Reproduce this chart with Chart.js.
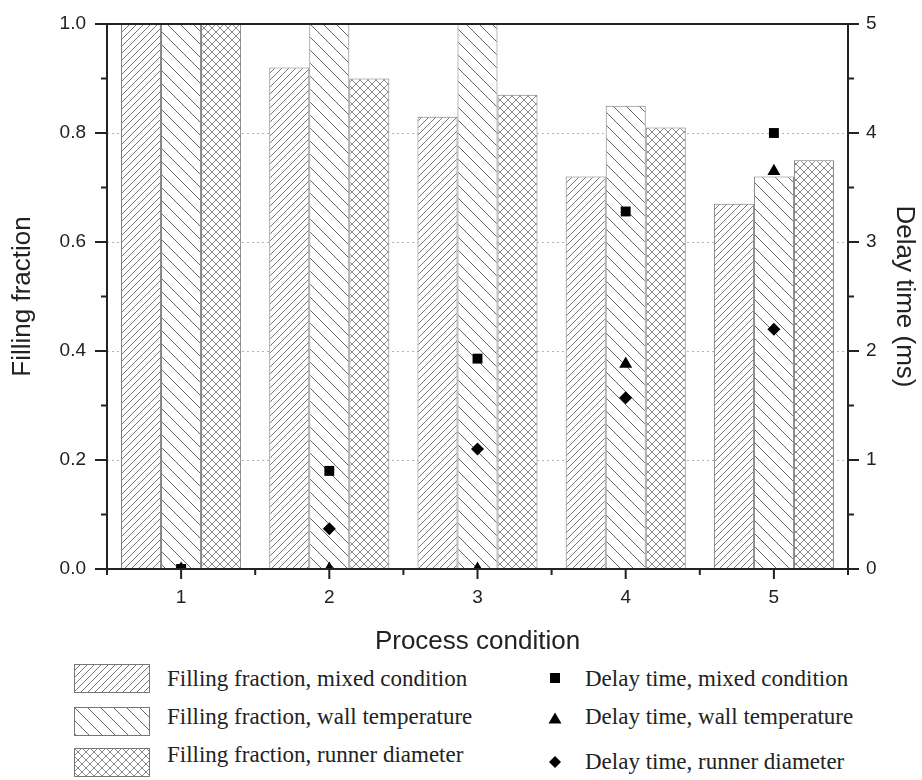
<!DOCTYPE html>
<html>
<head>
<meta charset="utf-8">
<script src="https://cdn.jsdelivr.net/npm/chart.js@4.4.0/dist/chart.umd.min.js"></script>
<style>
  body { margin: 0; background: #fff; }
  #wrap { position: relative; width: 922px; height: 780px; overflow: hidden; }
  #chart { position: absolute; left: 0; top: 0; }
  .sw { position: absolute; }
  .lbl { position: absolute; font-family: "Liberation Serif", "Times New Roman", serif; font-size: 23px; line-height: 23px; color: #222; white-space: nowrap; }
</style>
</head>
<body>
<div id="wrap">
  <canvas id="chart" width="922" height="660"></canvas>
  <div id="legend"></div>
</div>
<script>
// Data
const categories = ["1", "2", "3", "4", "5"];
const fillMixed  = [1.00, 0.92, 0.83, 0.72, 0.67];
const fillWall   = [1.00, 1.00, 1.00, 0.85, 0.72];
const fillRunner = [1.00, 0.90, 0.87, 0.81, 0.75];
const delayMixed  = [0, 0.90, 1.93, 3.28, 4.00];
const delayWall   = [0, 0, 0, 1.88, 3.65];
const delayRunner = [0, 0.37, 1.10, 1.57, 2.20];
const barNames   = ["Filling fraction, mixed condition", "Filling fraction, wall temperature", "Filling fraction, runner diameter"];
const pointNames = ["Delay time, mixed condition", "Delay time, wall temperature", "Delay time, runner diameter"];

const SANS = "'Liberation Sans', Arial, sans-serif";
const INK = "#222";

// hatch patterns: "/" dense, "\" wide, "x" crosshatch
function hatch(ctx, kind, size, color) {
  const c = document.createElement("canvas");
  c.width = c.height = size;
  const g = c.getContext("2d");
  g.fillStyle = "#fff";
  g.fillRect(0, 0, size, size);
  g.strokeStyle = color;
  g.lineWidth = 1;
  g.beginPath();
  for (let k = -1; k <= 1; k++) {
    if (kind === "/" || kind === "x") { g.moveTo(k * size, size); g.lineTo(k * size + size, 0); }
    if (kind === "\\" || kind === "x") { g.moveTo(k * size, 0); g.lineTo(k * size + size, size); }
  }
  g.stroke();
  return ctx.createPattern(c, "repeat");
}
const hatchSpec = [["/", 7, "#777"], ["\\", 13, "#666"], ["x", 8, "#888"]];

// axis frame, tick marks and dotted grid
const frame = {
  id: "frame",
  beforeDatasetsDraw(chart) {
    const { ctx, chartArea: a, scales: { y } } = chart;
    ctx.save();
    ctx.strokeStyle = "#b4b4b4";
    ctx.lineWidth = 1;
    ctx.setLineDash([2, 3]);
    y.ticks.forEach(t => {
      if (t.value <= y.min || t.value >= y.max) return;
      const py = Math.round(y.getPixelForValue(t.value)) + 0.5;
      ctx.beginPath();
      ctx.moveTo(a.left, py);
      ctx.lineTo(a.right, py);
      ctx.stroke();
    });
    ctx.restore();
  },
  afterDatasetsDraw(chart) {
    const { ctx, chartArea: a, scales: { x, y, y2 } } = chart;
    ctx.save();
    ctx.strokeStyle = INK;
    ctx.lineWidth = 2;
    ctx.strokeRect(a.left, a.top, a.right - a.left, a.bottom - a.top);
    ctx.beginPath();
    y.ticks.forEach((t, i) => {
      const py = y.getPixelForValue(t.value);
      ctx.moveTo(a.left - 12, py); ctx.lineTo(a.left, py);
      if (i < y.ticks.length - 1) {
        const m = y.getPixelForValue((t.value + y.ticks[i + 1].value) / 2);
        ctx.moveTo(a.left - 6, m); ctx.lineTo(a.left, m);
      }
    });
    y2.ticks.forEach((t, i) => {
      const py = y2.getPixelForValue(t.value);
      ctx.moveTo(a.right, py); ctx.lineTo(a.right + 11, py);
      if (i < y2.ticks.length - 1) {
        const m = y2.getPixelForValue((t.value + y2.ticks[i + 1].value) / 2);
        ctx.moveTo(a.right, m); ctx.lineTo(a.right + 6, m);
      }
    });
    x.ticks.forEach((t, i) => {
      const px = x.getPixelForValue(i);
      ctx.moveTo(px, a.bottom); ctx.lineTo(px, a.bottom + 10);
      const b = x.getPixelForValue(i + 0.5);
      ctx.moveTo(b, a.bottom); ctx.lineTo(b, a.bottom + 6);
      if (i === 0) {
        const b0 = x.getPixelForValue(-0.5);
        ctx.moveTo(b0, a.bottom); ctx.lineTo(b0, a.bottom + 6);
      }
    });
    ctx.stroke();
    ctx.restore();
  }
};

const canvas = document.getElementById("chart");
const cctx = canvas.getContext("2d");
const fills = [fillMixed, fillWall, fillRunner];
const delays = [delayMixed, delayWall, delayRunner];
const pointStyles = [["rect", 7], ["triangle", 7.5], ["rectRot", 6.5]];

const datasets = [];
fills.forEach((d, i) => {
  datasets.push({
    label: barNames[i],
    data: d,
    yAxisID: "y",
    backgroundColor: hatch(cctx, ...hatchSpec[i]),
    borderColor: "#777",
    borderWidth: 1,
    categoryPercentage: 0.81,
    barPercentage: 1.0,
    order: 2
  });
});
delays.forEach((d, i) => {
  datasets.push({
    type: "line",
    label: pointNames[i],
    data: d,
    yAxisID: "y2",
    showLine: false,
    pointStyle: pointStyles[i][0],
    pointRadius: pointStyles[i][1],
    pointBackgroundColor: "#000",
    pointBorderColor: "#000",
    pointBorderWidth: 0,
    clip: 0,
    order: 0
  });
});

const tickFont = { family: SANS, size: 19 };
const titleFont = { family: SANS, size: 26 };

// fixed axis sizes so the plot area sits where the figure has it
function fixVertical(width) {
  return s => { s.width = width; s.paddingTop = 0; s.paddingBottom = 0; };
}

new Chart(canvas, {
  type: "bar",
  data: { labels: categories, datasets },
  options: {
    responsive: false,
    animation: false,
    events: [],
    layout: { padding: { top: 24, left: 0, right: 0, bottom: 0 } },
    plugins: { legend: { display: false }, tooltip: { enabled: false } },
    scales: {
      x: {
        type: "category",
        offset: true,
        grid: { display: false, drawTicks: false },
        border: { display: false },
        ticks: { color: INK, font: tickFont, padding: 17 },
        title: { display: true, text: "Process condition", color: INK, font: titleFont, padding: { top: 0, bottom: 3 } },
        afterFit: s => { s.height = 91; }
      },
      y: {
        position: "left",
        min: 0,
        max: 1,
        grid: { display: false, drawTicks: false },
        border: { display: false },
        ticks: { stepSize: 0.2, color: INK, font: tickFont, padding: 21, callback: v => Number(v).toFixed(1) },
        title: { display: true, text: "Filling fraction", color: INK, font: titleFont, padding: { top: 7, bottom: 0 } },
        afterFit: fixVertical(107)
      },
      y2: {
        position: "right",
        min: 0,
        max: 5,
        grid: { display: false, drawTicks: false },
        border: { display: false },
        ticks: { stepSize: 1, color: INK, font: tickFont, padding: 18 },
        title: { display: true, text: "Delay time (ms)", color: INK, font: titleFont, padding: { top: 2, bottom: 0 } },
        afterFit: fixVertical(74)
      }
    }
  },
  plugins: [frame]
});

// legend below the chart
const legend = document.getElementById("legend");
const swatchRows = [{ top: 664, base: 686 }, { top: 707, base: 724 }, { top: 748, base: 762 }];
const markRows = [{ cy: 678, base: 686 }, { cy: 719, base: 724 }, { cy: 762, base: 769 }];
const BASE_OFF = 19.3;

barNames.forEach((name, i) => {
  const sw = document.createElement("canvas");
  sw.width = 76; sw.height = 29;
  sw.className = "sw";
  sw.style.left = "74px";
  sw.style.top = swatchRows[i].top + "px";
  const g = sw.getContext("2d");
  g.fillStyle = hatch(g, ...hatchSpec[i]);
  g.fillRect(0, 0, 76, 29);
  g.strokeStyle = "#777";
  g.lineWidth = 1;
  g.strokeRect(0.5, 0.5, 75, 28);
  legend.appendChild(sw);
  const t = document.createElement("div");
  t.className = "lbl";
  t.textContent = name;
  t.style.left = "167px";
  t.style.top = (swatchRows[i].base - BASE_OFF) + "px";
  legend.appendChild(t);
});

pointNames.forEach((name, i) => {
  const m = document.createElement("canvas");
  m.width = 20; m.height = 20;
  m.className = "sw";
  m.style.left = "545px";
  m.style.top = (markRows[i].cy - 10) + "px";
  const g = m.getContext("2d");
  g.fillStyle = "#000";
  g.beginPath();
  if (i === 0) g.rect(5, 5, 10, 10);
  else if (i === 1) { g.moveTo(10, 3.5); g.lineTo(16.5, 14.5); g.lineTo(3.5, 14.5); g.closePath(); }
  else { g.moveTo(10, 4); g.lineTo(16, 10); g.lineTo(10, 16); g.lineTo(4, 10); g.closePath(); }
  g.fill();
  legend.appendChild(m);
  const t = document.createElement("div");
  t.className = "lbl";
  t.textContent = name;
  t.style.left = "585px";
  t.style.top = (markRows[i].base - BASE_OFF) + "px";
  legend.appendChild(t);
});
</script>
</body>
</html>
